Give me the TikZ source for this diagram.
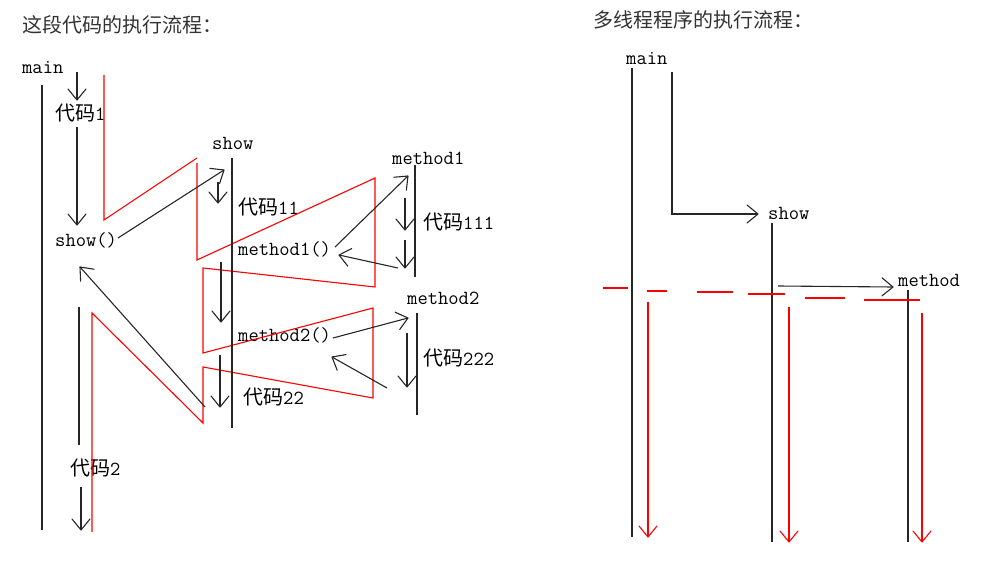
\documentclass[tikz,border=0pt]{standalone}
\usepackage{fontspec}
\newfontfamily\cjk{Noto Sans CJK SC}
\usetikzlibrary{decorations.markings}
\tikzset{
  ln/.style={line width=1.1pt, black!85},
  rl/.style={line width=1.1pt, red},
  arr/.style={postaction={decorate}, decoration={markings,
     mark=at position 1 with {\draw[#1, line width=1.1pt, line cap=round, line join=round]
        (-11pt,9pt) -- (0pt,0pt) -- (-11pt,-9pt);}}},
  arr/.default={black!85},
  lbl/.style={inner sep=0pt, anchor=west, font=\fontsize{20}{20}\selectfont\ttfamily},
  ttl/.style={inner sep=0pt, anchor=west, font=\fontsize{20}{20}\selectfont\cjk\color{black!80}},
}
\begin{document}
\begin{tikzpicture}[x=1pt,y=-1pt]
\useasboundingbox (0,0) rectangle (985,567);
% ---------- left diagram ----------
\node[ttl] (t1) at (22,25) {这段代码的执行流程：};
\node[lbl] (mainL) at (22,68) {main};
\node[lbl] (c1) at (55,113) {{\cjk 代码}1};
\node[lbl] (showcall) at (55,240) {show()};
\node[lbl] (showL) at (212,143) {show};
\node[lbl] (c11) at (238,207) {{\cjk 代码}11};
\node[lbl] (m1call) at (238,249) {method1()};
\node[lbl] (m1L) at (392,158) {method1};
\node[lbl] (c111) at (423,222) {{\cjk 代码}111};
\node[lbl] (m2call) at (238,335) {method2()};
\node[lbl] (m2L) at (407,298) {method2};
\node[lbl] (c222) at (423,358) {{\cjk 代码}222};
\node[lbl] (c22) at (243,397) {{\cjk 代码}22};
\node[lbl] (c2) at (70,468) {{\cjk 代码}2};

% red flow
\draw[rl] (104,75) -- (104,220) -- (197,158);
\draw[rl] (197,163) -- (197,260) -- (375,178) -- (375,287) -- (203,268) -- (203,353)
  -- (373,308) -- (373,398) -- (203,367) -- (203,423) -- (92,313) -- (92,532);

% lifelines
\draw[ln] (42,85) -- (42,530);
\draw[ln] (232,158) -- (232,428);
\draw[ln] (415,165) -- (415,277);
\draw[ln] (417,313) -- (417,415);

% black arrows
\draw[ln,arr] (77,72) -- (77,100);
\draw[ln,arr] (77,127) -- (77,225);
\draw[ln,arr] (118,238) -- (224,170);
\draw[ln,arr] (218,182) -- (218,203);
\draw[ln,arr] (335,247) -- (408,176);
\draw[ln,arr] (405,198) -- (405,230);
\draw[ln,arr] (405,240) -- (405,268);
\draw[ln,arr] (398,268) -- (339,255);
\draw[ln,arr] (221,262) -- (221,322);
\draw[ln,arr] (333,338) -- (408,318);
\draw[ln,arr] (407,333) -- (407,387);
\draw[ln,arr] (387,388) -- (332,357);
\draw[ln,arr] (220,355) -- (220,407);
\draw[ln,arr] (205,407) -- (80,267);
\draw[ln] (79,307) -- (79,445);
\draw[ln,arr] (81,487) -- (81,530);

% ---------- right diagram ----------
\node[ttl] (t2) at (593,20) {多线程程序的执行流程：};
\node[lbl] (mainR) at (626,59) {main};
\node[lbl] (showR) at (768,213) {show};
\node[lbl] (methR) at (898,280) {method};

\draw[ln] (632,68) -- (632,537);
\draw[ln,arr] (672,72) -- (672,214) -- (758,214);
\draw[ln] (772,223) -- (772,542);
\draw[ln,arr] (778,286) -- (893,287);
\draw[ln] (908,290) -- (908,542);

% red dashed split line
\draw[rl] (603,288) -- (628,288);
\draw[rl] (647,291) -- (667,291);
\draw[rl] (697,292) -- (733,292);
\draw[rl] (748,294) -- (785,294);
\draw[rl] (805,298) -- (845,298);
\draw[rl] (864,300) -- (920,300);

% red threads
\draw[rl,arr=red] (648,302) -- (648,537);
\draw[rl,arr=red] (789,307) -- (789,542);
\draw[rl,arr=red] (922,313) -- (922,542);
\end{tikzpicture}
\end{document}
